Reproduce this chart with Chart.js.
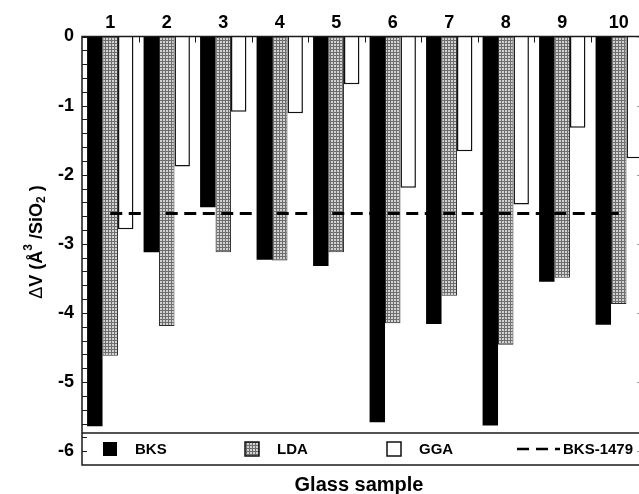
<!DOCTYPE html>
<html>
<head>
<meta charset="utf-8">
<title>Glass sample volume change</title>
<script src="https://cdn.jsdelivr.net/npm/chart.js@4.4.1/dist/chart.umd.min.js"></script>
<style>
  html, body { margin: 0; padding: 0; background: #fff; overflow: hidden; }
  #wrap { width: 639px; height: 494px; overflow: hidden; }
</style>
</head>
<body>
<div id="wrap">
  <canvas id="myChart" width="665" height="494"></canvas>
</div>
<script>
// 샘플 번호
const samples = ["1", "2", "3", "4", "5", "6", "7", "8", "9", "10"];
// ΔV 값 (Å^3/SiO2)
const bks = [-5.64, -3.12, -2.47, -3.23, -3.32, -5.58, -4.16, -5.63, -3.55, -4.17];
const lda = [-4.62, -4.19, -3.12, -3.24, -3.12, -4.15, -3.75, -4.46, -3.49, -3.87];
const gga = [-2.79, -1.88, -1.09, -1.11, -0.69, -2.19, -1.66, -2.43, -1.32, -1.76];
// BKS-1479 기준선
const bks1479 = -2.56;
// y축 눈금
const yTicks = [0, -1, -2, -3, -4, -5, -6];

// LDA 막대용 점무늬 패턴
function dotPattern() {
  const c = document.createElement("canvas");
  c.width = 3;
  c.height = 3;
  const g = c.getContext("2d");
  g.fillStyle = "#d2d2d2";
  g.fillRect(0, 0, 3, 3);
  g.fillStyle = "#6e6e6e";
  g.fillRect(0, 0, 1, 3);
  g.fillRect(1, 1, 2, 1);
  return g.createPattern(c, "repeat");
}
const ldaFill = dotPattern();

const FONT = "'Liberation Sans', Arial, sans-serif";

// 테두리, 안쪽 눈금, 범례, 축 제목은 직접 그림
const framePlugin = {
  id: "frame",
  afterDraw(chart) {
    const { ctx, chartArea: a, scales } = chart;
    const y = scales.y;
    const x = scales.x;
    ctx.save();
    ctx.strokeStyle = "#1a1a1a";
    ctx.lineWidth = 1.5;
    ctx.strokeRect(a.left, a.top, a.right - a.left, a.bottom - a.top);

    // 범례 칸
    const legTop = a.bottom - 32;
    ctx.beginPath();
    ctx.moveTo(a.left, legTop);
    ctx.lineTo(a.right, legTop);
    ctx.stroke();

    // 왼쪽 눈금 (0.2 간격)
    ctx.lineWidth = 1;
    ctx.beginPath();
    for (let k = 0; k <= 30; k++) {
      const py = Math.round(y.getPixelForValue(-k / 5)) + 0.5;
      ctx.moveTo(a.left, py);
      ctx.lineTo(a.left + 5, py);
    }
    // 위쪽 눈금 (샘플 경계)
    for (let i = 1; i < samples.length; i++) {
      const px = Math.round((x.getPixelForValue(i - 1) + x.getPixelForValue(i)) / 2) + 0.5;
      ctx.moveTo(px, a.top);
      ctx.lineTo(px, a.top + 6);
    }
    ctx.stroke();
    // 오른쪽 눈금
    ctx.strokeStyle = "#9a9a9a";
    ctx.beginPath();
    yTicks.forEach((v) => {
      const py = Math.round(y.getPixelForValue(v)) + 0.5;
      ctx.moveTo(a.right - 10, py);
      ctx.lineTo(a.right, py);
    });
    ctx.stroke();

    // 범례
    const ds = chart.data.datasets;
    const midY = legTop + 16;
    ctx.font = "bold 15px " + FONT;
    ctx.textBaseline = "middle";
    ctx.fillStyle = "#000";
    [0, 1, 2].forEach((i) => {
      const mx = a.left + 21 + i * 142;
      ctx.fillStyle = ds[i].backgroundColor;
      ctx.fillRect(mx, midY - 7, 14, 14);
      if (i > 0) {
        ctx.strokeStyle = "#111";
        ctx.lineWidth = 1.5;
        ctx.strokeRect(mx, midY - 7, 14, 14);
      }
      ctx.fillStyle = "#000";
      ctx.fillText(ds[i].label, mx + 32, midY + 1);
    });
    const lx = a.left + 435;
    ctx.strokeStyle = "#000";
    ctx.lineWidth = 2.5;
    ctx.setLineDash([12, 7]);
    ctx.beginPath();
    ctx.moveTo(lx, midY);
    ctx.lineTo(lx + 43, midY);
    ctx.stroke();
    ctx.setLineDash([]);
    ctx.fillText(ds[3].label, lx + 46, midY + 1);

    // x축 제목
    ctx.font = "bold 20px " + FONT;
    ctx.textAlign = "center";
    ctx.textBaseline = "middle";
    ctx.fillText("Glass sample", a.left + 277, 485);

    // y축 제목: ΔV (Å³/SiO₂ )
    ctx.translate(37, 242);
    ctx.rotate(-Math.PI / 2);
    const big = "bold 18px " + FONT;
    const thin = "18px " + FONT;
    const small = "bold 12px " + FONT;
    const parts = [
      ["Δ", thin, 0],
      ["V (Å", big, 0],
      ["3", small, -8],
      [" /SiO", big, 0],
      ["2", small, 5],
      [" )", big, 0],
    ];
    let total = 0;
    parts.forEach((p) => { ctx.font = p[1]; total += ctx.measureText(p[0]).width; });
    let cx = -total / 2;
    ctx.textAlign = "left";
    parts.forEach((p) => {
      ctx.font = p[1];
      ctx.fillText(p[0], cx, p[2]);
      cx += ctx.measureText(p[0]).width;
    });
    ctx.restore();
  },
};

const ctx = document.getElementById("myChart").getContext("2d");
const myChart = new Chart(ctx, {
  type: "bar",
  data: {
    labels: samples,
    datasets: [
      {
        label: "BKS",
        data: bks,
        backgroundColor: "#000",
        borderWidth: 0,
        order: 1,
      },
      {
        label: "LDA",
        data: lda,
        backgroundColor: ldaFill,
        borderColor: "#2a2a2a",
        borderWidth: 1,
        order: 1,
      },
      {
        label: "GGA",
        data: gga,
        backgroundColor: "#fff",
        borderColor: "#111",
        borderWidth: 1.5,
        order: 1,
      },
      {
        type: "line",
        label: "BKS-1479",
        data: samples.map(() => bks1479),
        borderColor: "#000",
        borderWidth: 3,
        borderDash: [12, 6.5],
        pointRadius: 0,
        fill: false,
        order: 0,
      },
    ],
  },
  options: {
    responsive: false,
    devicePixelRatio: 1,
    animation: false,
    layout: { padding: { top: 0, left: 0, right: 18, bottom: 29 } },
    datasets: {
      bar: { categoryPercentage: 0.82, barPercentage: 1 },
    },
    plugins: {
      legend: { display: false },
      tooltip: { enabled: false },
    },
    scales: {
      x: {
        type: "category",
        position: "top",
        offset: true,
        grid: { display: false, drawTicks: false },
        border: { display: false },
        ticks: {
          color: "#000",
          padding: 3,
          font: { family: FONT, size: 18, weight: "bold" },
        },
        afterFit(scale) { scale.height = 36.5; },
      },
      y: {
        min: -6.2,
        max: 0,
        grid: { display: false, drawTicks: false },
        border: { display: false },
        ticks: {
          stepSize: 1,
          includeBounds: false,
          color: "#000",
          padding: 8,
          font: { family: FONT, size: 18, weight: "bold" },
        },
        afterFit(scale) { scale.width = 82; },
      },
    },
  },
  plugins: [framePlugin],
});
</script>
</body>
</html>
